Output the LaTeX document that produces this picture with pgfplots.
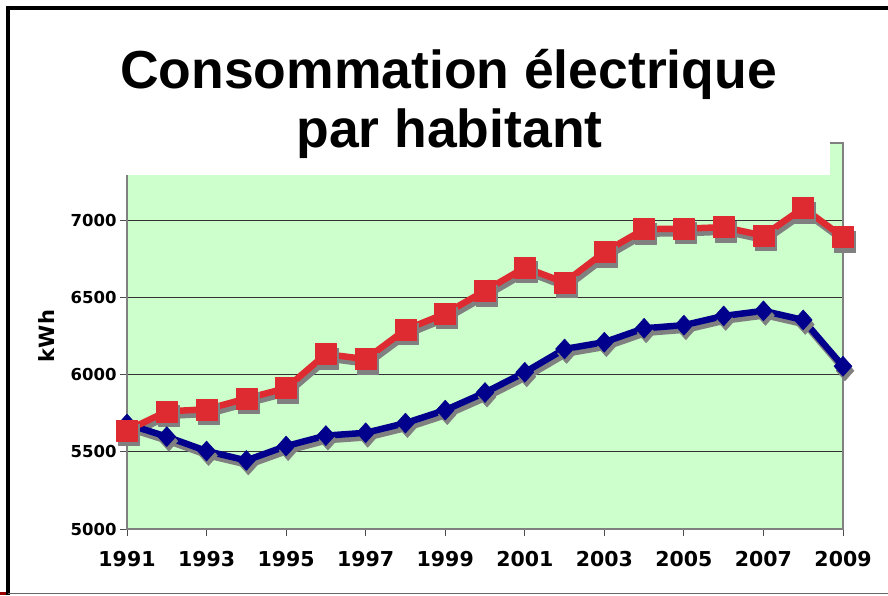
\documentclass[border=0pt]{standalone}
\usepackage{fontspec}
\setmainfont{DejaVu Sans}
\newfontfamily\titlefont{Liberation Sans}
\usepackage{pgfplots}
\pgfplotsset{compat=1.18}
\definecolor{bggreen}{RGB}{204,255,204}
\definecolor{sred}{RGB}{222,43,50}
\definecolor{sblue}{RGB}{0,0,140}
\definecolor{shadowgray}{RGB}{128,128,128}
\definecolor{axgray}{RGB}{128,128,128}
\begin{document}
\begin{tikzpicture}[x=1pt,y=1pt]
\useasboundingbox (0,0) rectangle (888,595);
\fill[white] (0,0) rectangle (888,595);
\begin{axis}[
  at={(127pt,66pt)}, anchor=south west,
  scale only axis, width=716pt, height=386pt,
  xmin=1991, xmax=2009, ymin=5000, ymax=7500,
  clip=false,
  axis background/.style={fill=bggreen},
  axis line style={axgray, line width=2.5pt},
  xtick={1991,1993,...,2009}, ytick={5000,5500,...,7000},
  tick pos=left,
  tick align=outside, major tick length=7pt,
  tick style={black!70, line width=1pt},
  ymajorgrids, grid style={black!80, line width=0.8pt},
  /pgf/number format/.cd, 1000 sep={}, assume math mode=true, /pgfplots/.cd,
  scaled y ticks=false,
  yticklabel style={font=\bfseries\fontsize{16.5}{19}\selectfont},
  xticklabel style={font=\bfseries\fontsize{20.5}{24}\selectfont, yshift=-12pt},
  ylabel={kWh},
  ylabel style={font=\bfseries\fontsize{21}{25}\selectfont, at={(axis description cs:-0.113,0.5)}, anchor=center},
  every axis plot/.append style={line width=6.5pt, line join=round},
]
% shadows
\addplot[shadowgray, mark=diamond*, mark size=10pt, mark options={line width=0.5pt, xscale=1.2}, xshift=2pt, yshift=-4.5pt] coordinates {
(1991,5680) (1992,5598) (1993,5505) (1994,5444) (1995,5537) (1996,5605) (1997,5623) (1998,5686) (1999,5770) (2000,5884)
(2001,6015) (2002,6166) (2003,6210) (2004,6300) (2005,6320) (2006,6380) (2007,6413) (2008,6354) (2009,6054)};
\addplot[shadowgray, mark=square*, mark size=10.5pt, mark options={line width=0.5pt}, xshift=2pt, yshift=-4.5pt] coordinates {
(1991,5638) (1992,5762) (1993,5775) (1994,5845) (1995,5912) (1996,6133) (1997,6100) (1998,6291) (1999,6395) (2000,6543)
(2001,6693) (2002,6597) (2003,6793) (2004,6942) (2005,6945) (2006,6955) (2007,6900) (2008,7080) (2009,6890)};
% series
\addplot[sblue, mark=diamond*, mark size=10pt, mark options={line width=0.5pt, xscale=1.2}] coordinates {
(1991,5680) (1992,5598) (1993,5505) (1994,5444) (1995,5537) (1996,5605) (1997,5623) (1998,5686) (1999,5770) (2000,5884)
(2001,6015) (2002,6166) (2003,6210) (2004,6300) (2005,6320) (2006,6380) (2007,6413) (2008,6354) (2009,6054)};
\addplot[sred, mark=square*, mark size=10.5pt, mark options={line width=0.5pt}] coordinates {
(1991,5638) (1992,5762) (1993,5775) (1994,5845) (1995,5912) (1996,6133) (1997,6100) (1998,6291) (1999,6395) (2000,6543)
(2001,6693) (2002,6597) (2003,6793) (2004,6942) (2005,6945) (2006,6955) (2007,6900) (2008,7080) (2009,6890)};
\end{axis}
\fill[white] (112,420) rectangle (830,458);
\node[anchor=base, inner sep=0pt, font=\titlefont\bfseries\fontsize{53.5}{58}\selectfont] at (448.5,506) {Consommation électrique};
\node[anchor=base, inner sep=0pt, font=\titlefont\bfseries\fontsize{53.5}{58}\selectfont] at (449.5,447.5) {par habitant};
\draw[black, line width=3.5pt] (8,588.75) -- (8,0);
\draw[black, line width=3.5pt] (6.25,587) -- (888,587);
\draw[black!60, line width=1pt] (8,2) -- (888,2);
\fill[red!60!black] (0,0) rectangle (6,3);
\end{tikzpicture}
\end{document}
